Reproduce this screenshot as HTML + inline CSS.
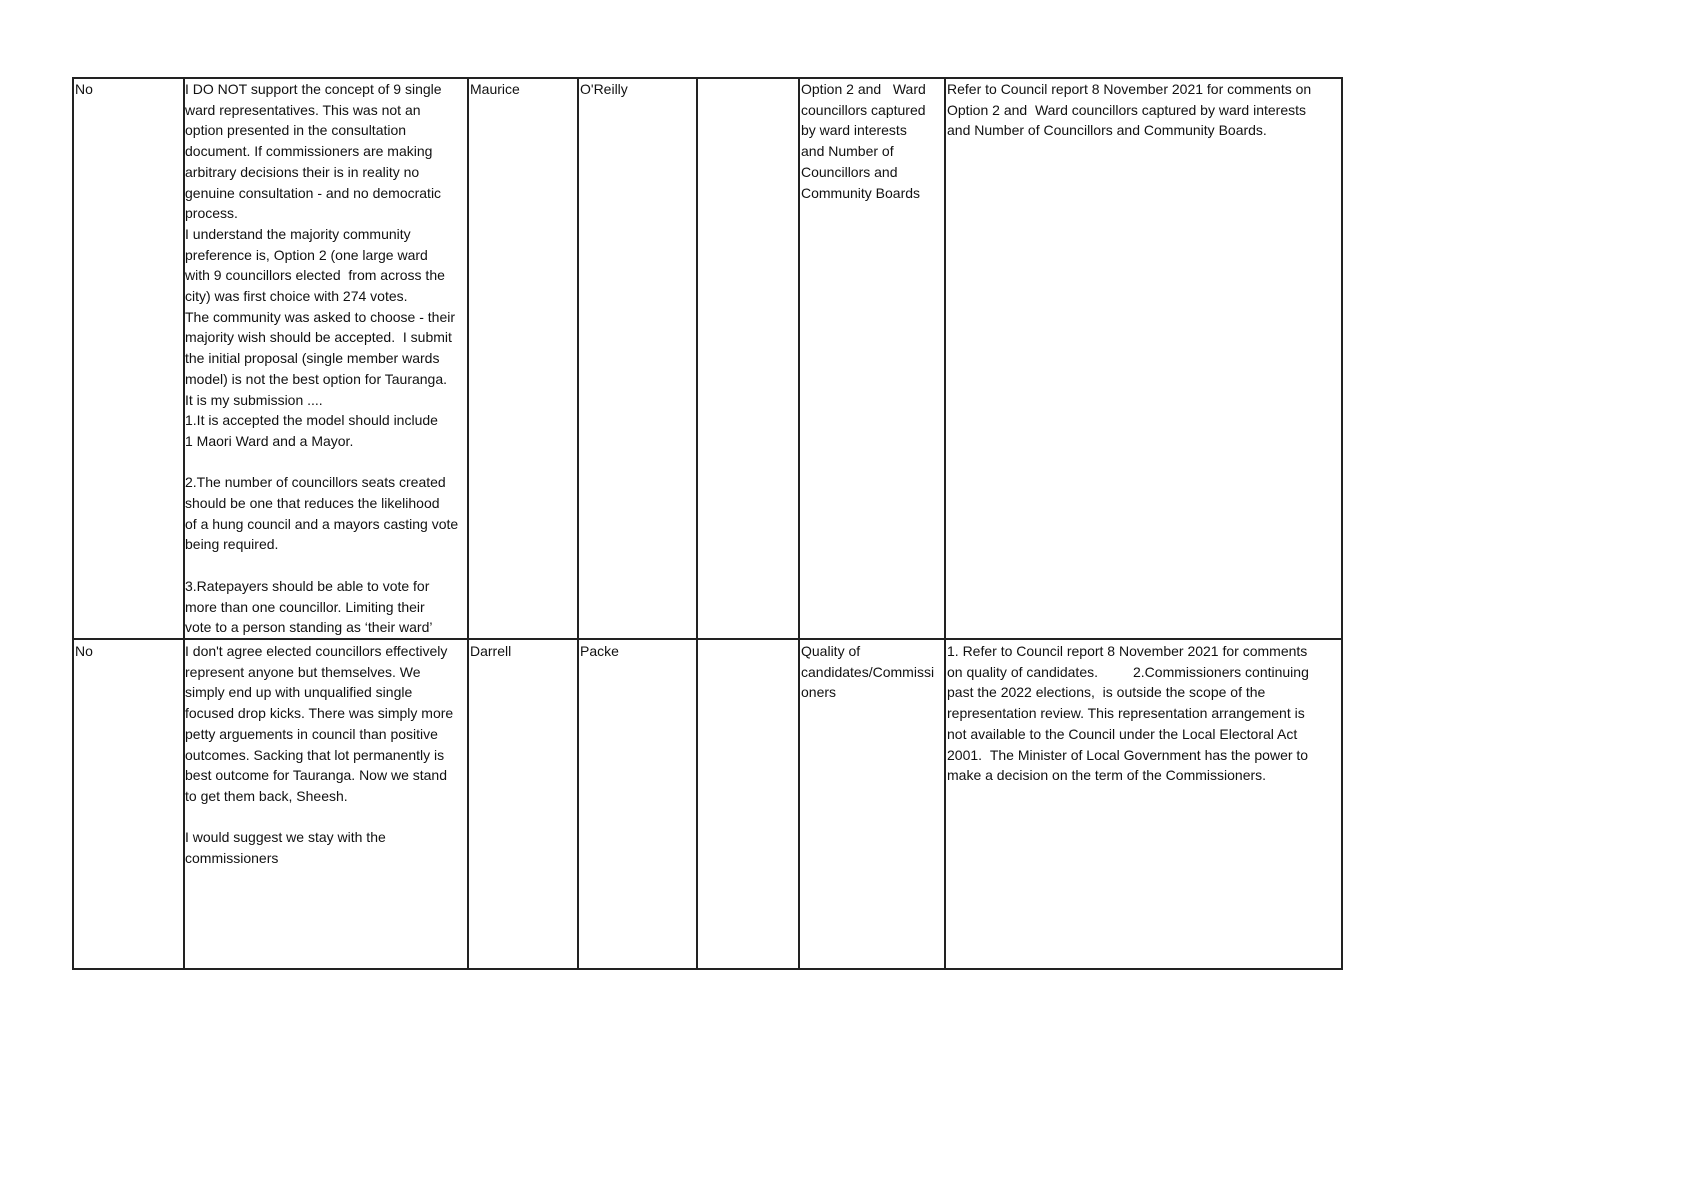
<!DOCTYPE html>
<html><head><meta charset="utf-8"><style>
body{margin:0;background:#fff;width:1689px;height:1194px;position:relative;overflow:hidden;font-family:"Liberation Sans",sans-serif;font-size:14px;color:#111}
.l{position:absolute;background:#222}
.c{position:absolute;line-height:20.7px;white-space:nowrap;overflow:hidden;padding-left:0px;padding-top:1px}
</style></head><body>
<div class="l" style="left:72px;top:77px;width:1271px;height:2px"></div>
<div class="l" style="left:72px;top:638px;width:1271px;height:2px"></div>
<div class="l" style="left:72px;top:968px;width:1271px;height:2px"></div>
<div class="l" style="left:72px;top:77px;width:2px;height:893px"></div>
<div class="l" style="left:183px;top:77px;width:1.5px;height:893px"></div>
<div class="l" style="left:467px;top:77px;width:1.5px;height:893px"></div>
<div class="l" style="left:577px;top:77px;width:1.5px;height:893px"></div>
<div class="l" style="left:696px;top:77px;width:1.5px;height:893px"></div>
<div class="l" style="left:798px;top:77px;width:1.5px;height:893px"></div>
<div class="l" style="left:944px;top:77px;width:1.5px;height:893px"></div>
<div class="l" style="left:1341px;top:77px;width:2px;height:893px"></div>

<div class="c" style="left:75px;top:78px;width:105px;height:560px">No</div>
<div class="c" style="left:185px;top:78px;width:281px;height:560px">I DO NOT support the concept of 9 single<br>ward representatives. This was not an<br>option presented in the consultation<br>document. If commissioners are making<br>arbitrary decisions their is in reality no<br>genuine consultation - and no democratic<br>process.<br>I understand the majority community<br>preference is, Option 2 (one large ward<br>with 9 councillors elected &nbsp;from across the<br>city) was first choice with 274 votes.<br>The community was asked to choose - their<br>majority wish should be accepted. &nbsp;I submit<br>the initial proposal (single member wards<br>model) is not the best option for Tauranga.<br>It is my submission ....<br>1.It is accepted the model should include<br>1 Maori Ward and a Mayor.<br><br>2.The number of councillors seats created<br>should be one that reduces the likelihood<br>of a hung council and a mayors casting vote<br>being required.<br><br>3.Ratepayers should be able to vote for<br>more than one councillor. Limiting their<br>vote to a person standing as ‘their ward’<br>would undermine</div>
<div class="c" style="left:470px;top:78px;width:104px">Maurice</div>
<div class="c" style="left:580px;top:78px;width:113px">O'Reilly</div>
<div class="c" style="left:801px;top:78px;width:141px">Option 2 and &nbsp;&nbsp;Ward<br>councillors captured<br>by ward interests<br>and Number of<br>Councillors and<br>Community Boards</div>
<div class="c" style="left:947px;top:78px;width:392px">Refer to Council report 8 November 2021 for comments on<br>Option 2 and &nbsp;Ward councillors captured by ward interests<br>and Number of Councillors and Community Boards.</div>

<div class="c" style="left:75px;top:640px;width:105px">No</div>
<div class="c" style="left:185px;top:640px;width:281px">I don't agree elected councillors effectively<br>represent anyone but themselves. We<br>simply end up with unqualified single<br>focused drop kicks. There was simply more<br>petty arguements in council than positive<br>outcomes. Sacking that lot permanently is<br>best outcome for Tauranga. Now we stand<br>to get them back, Sheesh.<br><br>I would suggest we stay with the<br>commissioners</div>
<div class="c" style="left:470px;top:640px;width:104px">Darrell</div>
<div class="c" style="left:580px;top:640px;width:113px">Packe</div>
<div class="c" style="left:801px;top:640px;width:142px">Quality of<br>candidates/Commissi<br>oners</div>
<div class="c" style="left:947px;top:640px;width:392px">1. Refer to Council report 8 November 2021 for comments<br>on quality of candidates. &nbsp;&nbsp;&nbsp;&nbsp;&nbsp;&nbsp;&nbsp;&nbsp;2.Commissioners continuing<br>past the 2022 elections, &nbsp;is outside the scope of the<br>representation review. This representation arrangement is<br>not available to the Council under the Local Electoral Act<br>2001. &nbsp;The Minister of Local Government has the power to<br>make a decision on the term of the Commissioners.</div>
</body></html>
